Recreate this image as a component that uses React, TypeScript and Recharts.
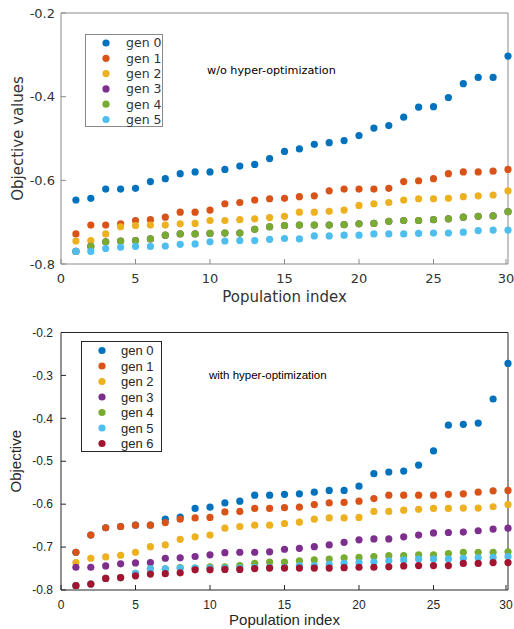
import { ScatterChart, Scatter, XAxis, YAxis, Legend } from 'recharts'

const POP_INDEX = [1, 2, 3, 4, 5, 6, 7, 8, 9, 10, 11, 12, 13, 14, 15, 16, 17, 18, 19, 20, 21, 22, 23, 24, 25, 26, 27, 28, 29, 30]
const X_TICKS = [0, 5, 10, 15, 20, 25, 30]
const TOP_Y_TICKS = [-0.8, -0.6, -0.4, -0.2]
const BOTTOM_Y_TICKS = [-0.8, -0.7, -0.6, -0.5, -0.4, -0.3, -0.2]

const GEN_LABELS = ['gen 0', 'gen 1', 'gen 2', 'gen 3', 'gen 4', 'gen 5', 'gen 6']
// matlab default line colors
const GEN_COLORS = ['#0072BD', '#D95319', '#EDB120', '#7E2F8E', '#77AC30', '#4DBEEE', '#A2142F']

// w/o hyper-optimization
const TOP_GEN0 = [-0.647, -0.643, -0.621, -0.621, -0.619, -0.603, -0.596, -0.584, -0.58, -0.58, -0.574, -0.566, -0.562, -0.548, -0.531, -0.525, -0.514, -0.51, -0.505, -0.493, -0.475, -0.469, -0.449, -0.425, -0.424, -0.402, -0.369, -0.354, -0.354, -0.303]
const TOP_GEN1 = [-0.728, -0.707, -0.707, -0.704, -0.696, -0.694, -0.688, -0.676, -0.676, -0.671, -0.656, -0.653, -0.647, -0.644, -0.643, -0.639, -0.637, -0.625, -0.621, -0.621, -0.621, -0.619, -0.603, -0.601, -0.596, -0.584, -0.58, -0.58, -0.578, -0.574]
const TOP_GEN2 = [-0.745, -0.744, -0.728, -0.711, -0.708, -0.707, -0.707, -0.704, -0.703, -0.696, -0.696, -0.694, -0.692, -0.689, -0.686, -0.676, -0.676, -0.674, -0.671, -0.66, -0.656, -0.653, -0.647, -0.644, -0.644, -0.643, -0.639, -0.637, -0.635, -0.625]
// gen 3 sits underneath gen 4 in the original, nothing of it shows
const TOP_GEN3 = [-0.77, -0.758, -0.747, -0.745, -0.744, -0.74, -0.731, -0.728, -0.728, -0.727, -0.726, -0.726, -0.717, -0.711, -0.708, -0.707, -0.707, -0.707, -0.706, -0.704, -0.703, -0.698, -0.696, -0.696, -0.694, -0.692, -0.688, -0.686, -0.685, -0.675]
const TOP_GEN4 = [-0.77, -0.758, -0.747, -0.745, -0.744, -0.74, -0.731, -0.728, -0.728, -0.727, -0.726, -0.726, -0.717, -0.711, -0.708, -0.707, -0.707, -0.707, -0.706, -0.704, -0.703, -0.698, -0.696, -0.696, -0.694, -0.692, -0.688, -0.686, -0.685, -0.675]
const TOP_GEN5 = [-0.77, -0.77, -0.763, -0.76, -0.758, -0.758, -0.757, -0.753, -0.752, -0.747, -0.745, -0.744, -0.744, -0.741, -0.739, -0.74, -0.733, -0.733, -0.731, -0.731, -0.728, -0.728, -0.728, -0.727, -0.726, -0.726, -0.724, -0.72, -0.719, -0.719]

// with hyper-optimization
const BOT_GEN0 = [-0.712, -0.672, -0.655, -0.652, -0.649, -0.649, -0.635, -0.63, -0.61, -0.607, -0.597, -0.593, -0.579, -0.579, -0.577, -0.576, -0.572, -0.568, -0.568, -0.558, -0.529, -0.525, -0.523, -0.509, -0.476, -0.416, -0.414, -0.411, -0.355, -0.272]
const BOT_GEN1 = [-0.712, -0.672, -0.655, -0.652, -0.649, -0.649, -0.643, -0.635, -0.632, -0.631, -0.618, -0.617, -0.61, -0.61, -0.608, -0.607, -0.601, -0.597, -0.596, -0.593, -0.587, -0.579, -0.579, -0.579, -0.579, -0.577, -0.576, -0.572, -0.569, -0.568]
const BOT_GEN2 = [-0.736, -0.726, -0.723, -0.719, -0.712, -0.699, -0.695, -0.682, -0.676, -0.672, -0.656, -0.652, -0.649, -0.649, -0.645, -0.642, -0.635, -0.632, -0.632, -0.631, -0.617, -0.617, -0.614, -0.612, -0.61, -0.61, -0.609, -0.609, -0.606, -0.601]
const BOT_GEN3 = [-0.747, -0.747, -0.744, -0.739, -0.737, -0.736, -0.726, -0.725, -0.722, -0.718, -0.713, -0.712, -0.712, -0.711, -0.705, -0.703, -0.699, -0.695, -0.689, -0.683, -0.681, -0.681, -0.676, -0.672, -0.667, -0.666, -0.665, -0.662, -0.658, -0.656]
const BOT_GEN4 = [-0.79, -0.786, -0.773, -0.771, -0.761, -0.751, -0.751, -0.748, -0.749, -0.746, -0.746, -0.743, -0.738, -0.735, -0.735, -0.732, -0.73, -0.728, -0.725, -0.724, -0.722, -0.72, -0.72, -0.718, -0.718, -0.715, -0.712, -0.712, -0.712, -0.711]
const BOT_GEN5 = [-0.79, -0.786, -0.773, -0.771, -0.761, -0.751, -0.751, -0.749, -0.749, -0.749, -0.749, -0.749, -0.747, -0.747, -0.747, -0.743, -0.743, -0.74, -0.738, -0.736, -0.735, -0.732, -0.73, -0.728, -0.728, -0.728, -0.726, -0.725, -0.724, -0.722]
const BOT_GEN6 = [-0.79, -0.786, -0.773, -0.771, -0.767, -0.763, -0.762, -0.76, -0.753, -0.753, -0.752, -0.752, -0.75, -0.749, -0.749, -0.749, -0.749, -0.749, -0.748, -0.747, -0.747, -0.746, -0.744, -0.743, -0.743, -0.743, -0.738, -0.738, -0.736, -0.736]

const TOP_SERIES = [TOP_GEN0, TOP_GEN1, TOP_GEN2, TOP_GEN3, TOP_GEN4, TOP_GEN5]
const BOT_SERIES = [BOT_GEN0, BOT_GEN1, BOT_GEN2, BOT_GEN3, BOT_GEN4, BOT_GEN5, BOT_GEN6]

const toPoints = (ys: number[]) => ys.map((y, i) => ({ x: POP_INDEX[i], y }))

const DOT_R = 3.6

interface LegendBoxProps {
    items: { value: string; color: string }[]
    width: number
    height: number
    font: string
    fontSize: number
    border: string
    textColor: string
    markerX: number
    textX: number
    firstRow: number
    rowGap: number
}

function LegendBox({ items, width, height, font, fontSize, border, textColor, markerX, textX, firstRow, rowGap }: LegendBoxProps) {
    return (
        <svg width={width} height={height} style={{ display: 'block' }}>
            <rect x={0.5} y={0.5} width={width - 1} height={height - 1} fill="#fff" stroke={border} />
            {items.map((it, i) => (
                <g key={it.value}>
                    <circle cx={markerX} cy={firstRow + i * rowGap} r={DOT_R} fill={it.color} />
                    <text
                        x={textX}
                        y={firstRow + i * rowGap}
                        dy="0.35em"
                        fontFamily={font}
                        fontSize={fontSize}
                        fill={textColor}
                    >
                        {it.value}
                    </text>
                </g>
            ))}
        </svg>
    )
}

interface PanelProps {
    series: number[][]
    yTicks: number[]
    height: number
    margin: { top: number; right: number; bottom: number; left: number }
    font: string
    axisColor: string
    textColor: string
    tickSize: number
    labelSize: number
    labelOffset: number
    yLabel: string
    yLabelX: number
    yTickGap: number
    note: string
    noteX: number
    noteY: number
    noteSize: number
    legend: { left: number; top: number; width: number; height: number; fontSize: number; markerX: number; textX: number; firstRow: number; rowGap: number }
}

function Panel(p: PanelProps) {
    // axes are 1px thick, so the plot box sits 1px inside the margins
    const plotTop = p.margin.top + 1
    const plotBottom = p.height - p.margin.bottom - 1
    const ax = p.axisColor

    const BottomTick = (props: any) => {
        const { x, y, payload } = props
        return (
            <g>
                <line x1={x} y1={y} x2={x} y2={y - 5} stroke={ax} />
                <text x={x} y={y + 19} textAnchor="middle" fontFamily={p.font} fontSize={p.tickSize} fill={p.textColor}>
                    {payload.value}
                </text>
            </g>
        )
    }
    const TopTick = (props: any) => {
        const { x, y } = props
        return <line x1={x} y1={y} x2={x} y2={y + 5} stroke={ax} />
    }
    const LeftTick = (props: any) => {
        const { x, y, payload } = props
        return (
            <g>
                <line x1={x} y1={y} x2={x + 5} y2={y} stroke={ax} />
                <text x={x - p.yTickGap} y={y} dy="0.35em" textAnchor="end" fontFamily={p.font} fontSize={p.tickSize} fill={p.textColor}>
                    {Number(payload.value).toFixed(1)}
                </text>
            </g>
        )
    }
    const RightTick = (props: any) => {
        const { x, y } = props
        return <line x1={x} y1={y} x2={x - 5} y2={y} stroke={ax} />
    }

    const yDomain = [p.yTicks[0], p.yTicks[p.yTicks.length - 1]]

    return (
        <ScatterChart width={514} height={p.height} margin={p.margin}>
            <XAxis
                xAxisId="bottom"
                type="number"
                dataKey="x"
                domain={[0, 30]}
                ticks={X_TICKS}
                height={1}
                tickSize={0}
                tickMargin={0}
                stroke={ax}
                tick={BottomTick}
                label={{ value: 'Population index', position: 'bottom', offset: p.labelOffset, fontFamily: p.font, fontSize: p.labelSize, fill: p.textColor }}
            />
            <XAxis
                xAxisId="top"
                orientation="top"
                type="number"
                dataKey="x"
                domain={[0, 30]}
                ticks={X_TICKS}
                height={1}
                tickSize={0}
                tickMargin={0}
                stroke={ax}
                tick={TopTick}
            />
            <YAxis
                yAxisId="left"
                type="number"
                dataKey="y"
                domain={yDomain}
                ticks={p.yTicks}
                width={1}
                tickSize={0}
                tickMargin={0}
                stroke={ax}
                tick={LeftTick}
            />
            <YAxis
                yAxisId="right"
                orientation="right"
                type="number"
                dataKey="y"
                domain={yDomain}
                ticks={p.yTicks}
                width={1}
                tickSize={0}
                tickMargin={0}
                stroke={ax}
                tick={RightTick}
            />

            {p.series.map((ys, i) => (
                <Scatter
                    key={GEN_LABELS[i]}
                    name={GEN_LABELS[i]}
                    data={toPoints(ys)}
                    xAxisId="bottom"
                    yAxisId="left"
                    fill={GEN_COLORS[i]}
                    isAnimationActive={false}
                    shape={(s: any) => <circle cx={s.cx} cy={s.cy} r={DOT_R} fill={GEN_COLORS[i]} />}
                />
            ))}

            <Legend
                layout="vertical"
                align="center"
                verticalAlign="middle"
                wrapperStyle={{ left: p.legend.left, top: p.legend.top, width: p.legend.width, height: p.legend.height }}
                content={(lp: any) => (
                    <LegendBox
                        items={(lp.payload || []).map((e: any) => ({ value: e.value, color: e.color }))}
                        width={p.legend.width}
                        height={p.legend.height}
                        font={p.font}
                        fontSize={p.legend.fontSize}
                        border={ax}
                        textColor={p.textColor}
                        markerX={p.legend.markerX}
                        textX={p.legend.textX}
                        firstRow={p.legend.firstRow}
                        rowGap={p.legend.rowGap}
                    />
                )}
            />

            <text
                x={p.yLabelX}
                y={(plotTop + plotBottom) / 2}
                transform={`rotate(-90 ${p.yLabelX} ${(plotTop + plotBottom) / 2})`}
                textAnchor="middle"
                dy="0.35em"
                fontFamily={p.font}
                fontSize={p.labelSize}
                fill={p.textColor}
            >
                {p.yLabel}
            </text>
            <text x={p.noteX} y={p.noteY} dy="0.35em" fontFamily={p.font} fontSize={p.noteSize} fill="#000">
                {p.note}
            </text>
        </ScatterChart>
    )
}

export default function App() {
    return (
        <div style={{ position: 'absolute', left: 0, top: 0, width: 514, height: 629, background: '#fff' }}>
            <Panel
                series={TOP_SERIES}
                yTicks={TOP_Y_TICKS}
                height={310}
                margin={{ top: 12, right: 5, bottom: 45, left: 60 }}
                font="DejaVu Sans"
                axisColor="#8a8a8a"
                textColor="#333"
                tickSize={13}
                labelSize={15}
                labelOffset={26}
                yLabel="Objective values"
                yLabelX={18}
                yTickGap={6}
                note="w/o hyper-optimization"
                noteX={207}
                noteY={70}
                noteSize={11.2}
                legend={{ left: 85, top: 34, width: 78, height: 93, fontSize: 12.5, markerX: 21, textX: 41, firstRow: 9, rowGap: 15.3 }}
            />
            <Panel
                series={BOT_SERIES}
                yTicks={BOTTOM_Y_TICKS}
                height={319}
                margin={{ top: 21.5, right: 5, bottom: 38, left: 60 }}
                font="Liberation Sans"
                axisColor="#262626"
                textColor="#262626"
                tickSize={12}
                labelSize={15}
                labelOffset={23}
                yLabel="Objective"
                yLabelX={16}
                yTickGap={8}
                note="with hyper-optimization"
                noteX={209}
                noteY={65}
                noteSize={11.5}
                legend={{ left: 81, top: 31, width: 81, height: 111, fontSize: 13, markerX: 21, textX: 40, firstRow: 9.5, rowGap: 15.5 }}
            />
        </div>
    )
}
